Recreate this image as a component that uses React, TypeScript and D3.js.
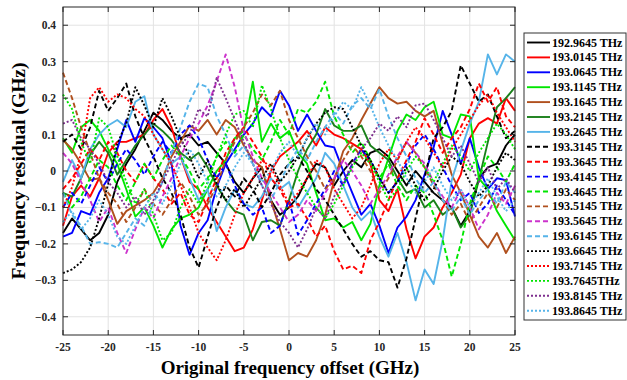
import * as d3 from "d3";

// frequency offsets (GHz)
const freqOffset = [-25, -24, -23, -22, -21, -20, -19, -18, -17, -16, -15, -14, -13, -12, -11, -10, -9, -8, -7, -6, -5, -4, -3, -2, -1, 0, 1, 2, 3, 4, 5, 6, 7, 8, 9, 10, 11, 12, 13, 14, 15, 16, 17, 18, 19, 20, 21, 22, 23, 24, 25];

// residuals (GHz), one array per channel
const r1929645 = [-0.17, -0.13, -0.16, -0.19, -0.17, -0.12, -0.03, 0.02, 0.06, 0.11, 0.16, 0.14, 0.11, 0.09, 0.1, 0.07, 0.08, 0.05, 0.02, -0.03, -0.06, -0.02, 0.01, -0.08, -0.12, -0.1, -0.07, -0.02, 0.02, 0.01, -0.04, 0.0, 0.03, 0.01, 0.05, 0.06, 0.04, 0.0, -0.04, 0.0, -0.03, -0.06, -0.08, -0.1, -0.15, -0.11, -0.02, 0.01, 0.02, 0.07, 0.1];
const r1930145 = [-0.15, -0.07, -0.04, -0.07, -0.02, 0.05, 0.08, 0.08, 0.09, 0.1, 0.14, 0.17, 0.12, 0.04, -0.03, -0.05, -0.1, -0.14, -0.18, -0.22, -0.21, -0.16, -0.08, 0.0, 0.04, 0.06, 0.08, 0.11, 0.07, 0.12, 0.1, 0.09, 0.075, 0.06, 0.02, -0.08, -0.11, -0.05, -0.16, -0.24, -0.18, -0.155, -0.1, -0.06, -0.01, 0.09, 0.13, 0.145, 0.13, 0.2, 0.165];
const r1930645 = [-0.18, -0.17, -0.11, -0.12, -0.06, -0.02, 0.06, 0.14, 0.08, 0.145, 0.12, 0.09, 0.02, -0.15, -0.23, -0.17, -0.135, -0.045, 0.02, 0.06, 0.1, 0.13, 0.175, 0.15, 0.22, 0.18, 0.11, 0.155, 0.11, 0.07, 0.065, 0.0, -0.06, -0.12, -0.09, -0.15, -0.225, -0.155, -0.125, -0.08, -0.01, 0.065, 0.165, 0.1, 0.02, 0.09, 0.01, -0.05, -0.02, -0.025, -0.125];
const r1931145 = [0.09, 0.05, 0.12, 0.14, 0.11, 0.06, 0.02, -0.05, -0.125, -0.1, -0.15, -0.21, -0.16, -0.13, -0.12, -0.1, -0.05, 0.0, 0.03, 0.09, 0.11, 0.245, 0.08, 0.13, 0.09, 0.11, 0.05, 0.02, -0.06, -0.135, -0.13, -0.155, -0.14, -0.19, -0.145, -0.04, 0.035, 0.11, 0.155, 0.14, 0.175, 0.19, 0.1, 0.09, 0.155, 0.15, -0.02, -0.05, -0.11, -0.15, -0.19];
const r1931645 = [0.085, 0.06, 0.02, -0.025, -0.02, -0.08, -0.145, -0.11, -0.095, -0.08, -0.06, -0.02, 0.04, 0.08, 0.125, 0.11, 0.14, 0.1, 0.14, 0.12, 0.07, 0.03, 0.01, -0.08, -0.16, -0.245, -0.225, -0.235, -0.19, -0.12, -0.025, 0.055, 0.09, 0.14, 0.185, 0.23, 0.2, 0.185, 0.19, 0.165, 0.15, 0.165, 0.075, -0.01, -0.06, -0.12, -0.18, -0.21, -0.17, -0.225, -0.18];
const r1932145 = [-0.06, -0.07, -0.02, 0.045, 0.08, 0.05, -0.01, 0.03, 0.07, 0.1, 0.13, 0.11, 0.085, 0.05, 0.03, 0.05, 0.01, -0.04, -0.08, -0.11, -0.12, -0.19, -0.14, -0.135, -0.15, -0.08, 0.0, 0.06, 0.1, 0.17, 0.125, 0.11, 0.11, 0.125, 0.07, 0.05, 0.03, -0.02, -0.06, -0.05, -0.1, -0.08, -0.12, -0.1, -0.155, -0.12, -0.025, 0.08, 0.175, 0.2, 0.23];
const r1932645 = [-0.03, 0.03, -0.02, 0.06, 0.1, 0.125, 0.14, 0.12, 0.19, 0.205, 0.1, 0.06, 0.02, 0.04, -0.02, -0.08, -0.05, -0.165, -0.1, -0.05, -0.09, -0.1, -0.07, -0.02, -0.05, -0.03, -0.1, -0.06, -0.02, 0.05, 0.02, -0.04, -0.1, -0.135, -0.11, -0.18, -0.235, -0.17, -0.25, -0.355, -0.27, -0.31, -0.19, -0.025, 0.055, 0.13, 0.19, 0.32, 0.265, 0.32, 0.3];
const r1933145 = [0.08, 0.1, 0.06, 0.12, 0.22, 0.165, 0.2, 0.24, 0.15, 0.09, 0.04, -0.02, -0.06, -0.12, -0.21, -0.265, -0.18, -0.1, -0.04, -0.07, -0.02, -0.05, -0.1, -0.06, -0.01, 0.02, 0.04, 0.0, -0.05, -0.08, -0.12, -0.16, -0.2, -0.235, -0.22, -0.245, -0.25, -0.32, -0.24, -0.13, -0.02, 0.09, 0.12, 0.165, 0.29, 0.24, 0.19, 0.21, 0.15, 0.09, 0.11];
const r1933645 = [-0.05, -0.02, 0.02, 0.06, 0.03, 0.08, 0.05, 0.0, -0.03, 0.02, -0.02, -0.05, -0.09, -0.06, -0.12, -0.14, -0.08, -0.02, 0.05, 0.09, 0.12, 0.08, 0.04, -0.02, -0.05, -0.1, -0.09, -0.13, -0.18, -0.15, -0.22, -0.27, -0.26, -0.28, -0.19, -0.14, -0.08, -0.02, 0.03, 0.08, 0.145, 0.1, 0.05, 0.09, 0.12, 0.17, 0.24, 0.19, 0.23, 0.15, 0.12];
const r1934145 = [-0.1, -0.06, -0.09, -0.04, 0.01, -0.03, 0.02, 0.06, 0.03, -0.01, 0.04, 0.08, 0.05, 0.1, 0.125, 0.09, 0.03, -0.02, 0.02, -0.04, -0.09, -0.12, -0.1, -0.17, -0.15, -0.08, -0.175, -0.135, -0.09, -0.05, 0.0, -0.04, 0.02, 0.06, 0.03, -0.02, -0.06, -0.03, 0.02, 0.07, 0.1, 0.06, 0.01, -0.04, -0.08, -0.06, -0.115, -0.09, -0.04, -0.08, -0.12];
const r1934645 = [-0.06, -0.1, -0.07, -0.02, 0.03, 0.01, -0.04, -0.08, -0.03, 0.02, -0.02, 0.03, 0.07, 0.04, 0.0, -0.05, -0.02, 0.04, 0.08, 0.05, 0.1, 0.06, 0.03, 0.08, 0.14, 0.1, 0.17, 0.16, 0.19, 0.245, 0.15, 0.1, 0.05, 0.08, 0.03, -0.02, 0.02, -0.04, -0.08, -0.04, -0.06, -0.12, -0.19, -0.29, -0.2, -0.09, -0.02, 0.04, 0.01, -0.03, 0.02];
const r1935145 = [0.27, 0.2, 0.12, 0.05, -0.02, -0.06, -0.09, -0.14, -0.1, -0.05, -0.09, -0.12, -0.08, -0.03, -0.07, -0.12, -0.09, -0.04, 0.03, 0.08, 0.12, 0.16, 0.21, 0.18, 0.22, 0.14, 0.09, 0.04, 0.0, -0.05, -0.02, 0.03, 0.07, 0.04, 0.0, -0.06, -0.02, 0.03, 0.08, 0.05, 0.01, -0.04, -0.08, -0.12, -0.09, -0.14, -0.1, -0.06, -0.1, -0.05, -0.08];
const r1935645 = [0.05, 0.02, -0.03, -0.08, -0.14, -0.1, -0.17, -0.225, -0.16, -0.1, -0.13, -0.07, -0.02, 0.04, 0.09, 0.13, 0.18, 0.245, 0.32, 0.23, 0.11, 0.04, -0.02, -0.06, -0.1, -0.14, -0.12, -0.08, -0.11, -0.06, -0.02, 0.03, 0.0, -0.04, -0.09, -0.05, -0.01, 0.04, 0.08, 0.05, 0.02, -0.03, -0.07, -0.1, -0.05, -0.1, -0.16, -0.12, -0.06, -0.09, -0.04];
const r1936145 = [-0.06, -0.12, -0.15, -0.2, -0.195, -0.2, -0.21, -0.17, -0.13, -0.15, -0.09, -0.03, 0.05, 0.12, 0.19, 0.24, 0.23, 0.15, 0.1, 0.04, 0.07, 0.02, -0.04, -0.08, -0.03, 0.02, 0.06, 0.03, 0.08, 0.12, 0.16, 0.13, 0.18, 0.2, 0.17, 0.225, 0.15, 0.09, 0.04, -0.02, -0.06, -0.03, -0.08, -0.11, -0.07, -0.12, -0.08, -0.05, -0.09, -0.03, -0.06];
const r1936645 = [-0.28, -0.27, -0.25, -0.21, -0.13, -0.035, 0.075, 0.13, 0.23, 0.18, 0.12, 0.2, 0.15, 0.09, 0.04, -0.02, 0.03, -0.035, -0.08, -0.05, -0.1, -0.06, -0.02, 0.02, -0.03, 0.0, 0.04, 0.09, 0.13, 0.16, 0.175, 0.17, 0.12, 0.07, 0.03, -0.02, -0.06, -0.03, 0.01, -0.04, -0.08, -0.05, 0.0, 0.04, 0.02, -0.03, -0.07, -0.04, 0.01, 0.05, 0.03];
const r1937145 = [-0.1, -0.045, 0.05, 0.2, 0.23, 0.19, 0.21, 0.2, 0.17, 0.15, 0.1, 0.06, 0.02, -0.04, -0.1, -0.17, -0.21, -0.245, -0.19, -0.12, -0.06, -0.02, 0.03, 0.01, -0.04, -0.09, -0.06, -0.02, 0.03, 0.01, -0.05, -0.09, -0.13, -0.1, -0.04, 0.02, 0.06, 0.03, 0.08, 0.12, 0.09, 0.05, 0.01, 0.06, 0.1, 0.14, 0.18, 0.21, 0.16, 0.12, 0.08];
const r1937645 = [0.21, 0.17, 0.08, 0.02, 0.145, 0.12, 0.04, -0.03, -0.09, -0.05, -0.12, -0.19, -0.17, -0.1, -0.05, -0.09, -0.03, 0.04, 0.1, 0.155, 0.165, 0.12, 0.235, 0.17, 0.09, 0.03, -0.02, -0.06, -0.1, -0.13, -0.09, -0.04, 0.01, 0.05, 0.02, -0.03, -0.08, -0.05, 0.0, 0.04, 0.01, -0.03, 0.02, 0.07, 0.04, 0.0, 0.05, 0.09, 0.13, 0.1, 0.06];
const r1938145 = [0.13, 0.14, 0.09, 0.06, 0.02, -0.03, -0.06, -0.1, -0.07, -0.12, -0.08, -0.03, 0.02, 0.07, 0.1, 0.17, 0.15, 0.255, 0.2, 0.14, 0.08, 0.02, -0.04, -0.09, -0.14, -0.17, -0.21, -0.16, -0.1, -0.13, -0.07, -0.03, 0.02, 0.06, 0.09, 0.13, 0.11, 0.15, 0.12, 0.18, 0.185, 0.14, 0.09, 0.04, 0.07, 0.02, -0.03, 0.01, -0.05, -0.02, -0.06];
const r1938645 = [-0.14, -0.11, -0.16, -0.13, -0.08, -0.12, -0.18, -0.2, -0.15, -0.1, -0.06, -0.09, -0.04, 0.02, 0.06, 0.02, -0.03, -0.07, -0.04, 0.01, 0.05, 0.02, -0.03, 0.0, 0.05, 0.08, 0.04, 0.09, 0.13, 0.1, 0.15, 0.19, 0.17, 0.23, 0.18, 0.12, 0.07, 0.03, -0.02, -0.06, -0.03, 0.01, -0.04, -0.08, -0.05, -0.1, -0.06, -0.02, -0.07, -0.11, -0.08];

const yTicks = [-0.4, -0.3, -0.2, -0.1, 0, 0.1, 0.2, 0.3, 0.4];
const xTicks = [-25, -20, -15, -10, -5, 0, 5, 10, 15, 20, 25];

const BLUE_L = "#56b4e9";
const series = [
  { label: "192.9645 THz", values: r1929645, color: "#000000", dash: "" },
  { label: "193.0145 THz", values: r1930145, color: "#ff0000", dash: "" },
  { label: "193.0645 THz", values: r1930645, color: "#0000ff", dash: "" },
  { label: "193.1145 THz", values: r1931145, color: "#00e600", dash: "" },
  { label: "193.1645 THz", values: r1931645, color: "#b0501e", dash: "" },
  { label: "193.2145 THz", values: r1932145, color: "#1a801a", dash: "" },
  { label: "193.2645 THz", values: r1932645, color: BLUE_L, dash: "" },
  { label: "193.3145 THz", values: r1933145, color: "#000000", dash: "5,3" },
  { label: "193.3645 THz", values: r1933645, color: "#ff0000", dash: "5,3" },
  { label: "193.4145 THz", values: r1934145, color: "#0000ff", dash: "5,3" },
  { label: "193.4645 THz", values: r1934645, color: "#00e600", dash: "5,3" },
  { label: "193.5145 THz", values: r1935145, color: "#b0501e", dash: "5,3" },
  { label: "193.5645 THz", values: r1935645, color: "#cc33cc", dash: "5,3" },
  { label: "193.6145 THz", values: r1936145, color: BLUE_L, dash: "5,3" },
  { label: "193.6645 THz", values: r1936645, color: "#000000", dash: "2,2" },
  { label: "193.7145 THz", values: r1937145, color: "#ff0000", dash: "2,2" },
  { label: "193.7645THz", values: r1937645, color: "#00e600", dash: "2,2" },
  { label: "193.8145 THz", values: r1938145, color: "#7e2f8e", dash: "2,2" },
  { label: "193.8645 THz", values: r1938645, color: BLUE_L, dash: "2,2" },
];

const W = 627;
const H = 380;
const x0 = 63, x1 = 515, y0 = 7, y1 = 335;
const FONT = "'Liberation Serif', 'Times New Roman', serif";

export default function App() {
  const x = d3.scaleLinear().domain([-25, 25]).range([x0, x1]);
  const y = d3.scaleLinear().domain([-0.45, 0.45]).range([y1, y0]);
  const line = d3
    .line<number>()
    .x((_, i) => x(freqOffset[i]))
    .y((d) => y(d));

  const legX = 524, legY = 33, legW = 102, legH = 287, legStep = 14.9;

  return (
    <svg
      width={W}
      height={H}
      style={{ position: "absolute", left: 0, top: 0, background: "#fff" }}
      fontFamily={FONT}
      fontWeight="bold"
    >
      <rect x={0} y={0} width={W} height={H} fill="#fff" />
      <rect x={x0} y={y0} width={x1 - x0} height={y1 - y0} fill="#fff" />
      {/* grid */}
      {xTicks.map((t) => (
        <line key={"gx" + t} x1={x(t)} x2={x(t)} y1={y0} y2={y1} stroke="#e3e3e3" strokeWidth={1} />
      ))}
      {yTicks.map((t) => (
        <line key={"gy" + t} x1={x0} x2={x1} y1={y(t)} y2={y(t)} stroke="#e3e3e3" strokeWidth={1} />
      ))}
      {/* data */}
      {series.map((s) => (
        <path
          key={s.label}
          d={line(s.values) || ""}
          fill="none"
          stroke={s.color}
          strokeWidth={1.9}
          strokeDasharray={s.dash || undefined}
          strokeLinejoin="round"
        />
      ))}
      {/* box + ticks */}
      <rect x={x0} y={y0} width={x1 - x0} height={y1 - y0} fill="none" stroke="#262626" strokeWidth={1} />
      {xTicks.map((t) => (
        <g key={"tx" + t}>
          <line x1={x(t)} x2={x(t)} y1={y1} y2={y1 - 5} stroke="#262626" />
          <line x1={x(t)} x2={x(t)} y1={y0} y2={y0 + 5} stroke="#262626" />
          <text x={x(t)} y={351} textAnchor="middle" fontSize={11.5} fill="#262626">
            {t}
          </text>
        </g>
      ))}
      {yTicks.map((t) => (
        <g key={"ty" + t}>
          <line x1={x0} x2={x0 + 5} y1={y(t)} y2={y(t)} stroke="#262626" />
          <line x1={x1} x2={x1 - 5} y1={y(t)} y2={y(t)} stroke="#262626" />
          <text x={56} y={y(t) + 4} textAnchor="end" fontSize={11.5} fill="#262626">
            {t === 0 ? "0" : d3.format(".1f")(t)}
          </text>
        </g>
      ))}
      <text x={290} y={374} textAnchor="middle" fontSize={19} fill="#000">
        Original frequency offset (GHz)
      </text>
      <text
        transform={`translate(25,${(y0 + y1) / 2}) rotate(-90)`}
        textAnchor="middle"
        fontSize={19.5}
        fill="#000"
      >
        Frequency residual (GHz)
      </text>
      {/* legend */}
      <rect x={legX} y={legY} width={legW} height={legH} fill="#fff" stroke="#333" strokeWidth={1} />
      {series.map((s, i) => {
        const ly = legY + 9.5 + i * legStep;
        return (
          <g key={"lg" + s.label}>
            <line
              x1={legX + 3}
              x2={legX + 26}
              y1={ly}
              y2={ly}
              stroke={s.color}
              strokeWidth={1.9}
              strokeDasharray={s.dash || undefined}
            />
            <text x={legX + 28} y={ly + 4} fontSize={12} fill="#000">
              {s.label}
            </text>
          </g>
        );
      })}
    </svg>
  );
}
